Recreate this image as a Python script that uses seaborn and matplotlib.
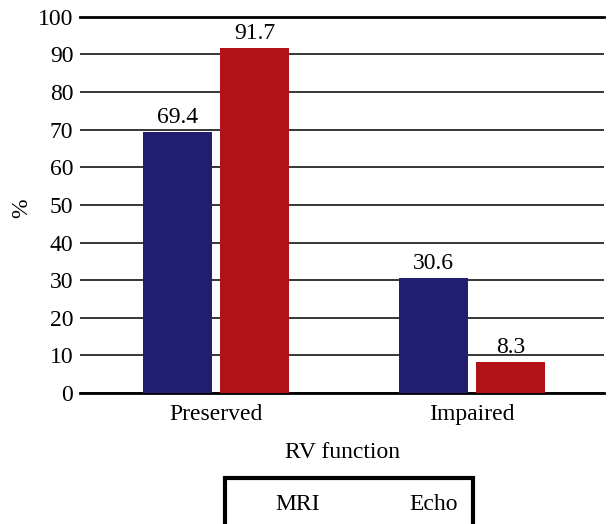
import pandas as pd
import matplotlib.pyplot as plt
import seaborn as sns

# values
categories = ['Preserved', 'Impaired']
methods = ['MRI', 'Echo']
mri_values = [69.4, 30.6]
echo_values = [91.7, 8.3]

df = pd.DataFrame({
    'RV function': categories * 2,
    'method': [methods[0]] * 2 + [methods[1]] * 2,
    'pct': mri_values + echo_values,
})

sns.set_style('white')
plt.rcParams['font.family'] = ['Liberation Serif', 'DejaVu Serif']
plt.rcParams['text.color'] = 'black'
plt.rcParams['axes.labelcolor'] = 'black'
plt.rcParams['xtick.color'] = 'black'
plt.rcParams['ytick.color'] = 'black'

fig = plt.figure(figsize=(6.08, 5.24), dpi=100)
ax = fig.add_axes([0.132, 0.25, 0.862, 0.718])

sns.barplot(data=df, x='RV function', y='pct', hue='method',
            palette=['#221f73', '#b01218'], width=0.6, gap=0.1,
            saturation=1, linewidth=0, ax=ax, zorder=3)

for c in ax.containers:
    ax.bar_label(c, fmt='%.1f', padding=3, fontsize=17)

ax.set_xlim(-0.53, 1.517)
ax.set_ylim(0, 100)
ax.set_yticks(range(0, 101, 10))
ax.tick_params(axis='both', length=0, labelsize=17, pad=5)
ax.tick_params(axis='x', pad=8)
ax.grid(axis='y', color='black', linewidth=1.1)
ax.set_axisbelow(True)

for s in ['left', 'right']:
    ax.spines[s].set_visible(False)
ax.spines['top'].set_linewidth(2)
ax.spines['bottom'].set_linewidth(2)
ax.spines['top'].set_color('black')
ax.spines['bottom'].set_color('black')

ax.set_xlabel('RV function', fontsize=17, labelpad=12)
ax.set_ylabel('%', fontsize=17)
ax.yaxis.set_label_coords(-0.092, 0.49)

handles, labels = ax.get_legend_handles_labels()
ax.legend_.remove()
leg = fig.legend(handles, labels, loc='upper center',
                 bbox_to_anchor=(0.574, 0.088), ncol=2, fontsize=17,
                 handlelength=1.0, handleheight=0.7, handletextpad=0.5,
                 columnspacing=2.3, borderpad=0.65, borderaxespad=0,
                 frameon=True, fancybox=False, edgecolor='black',
                 framealpha=1)
leg.get_frame().set_linewidth(3)
for h in leg.legend_handles:
    h.set_visible(False)

fig.savefig('out.png', dpi=100)
